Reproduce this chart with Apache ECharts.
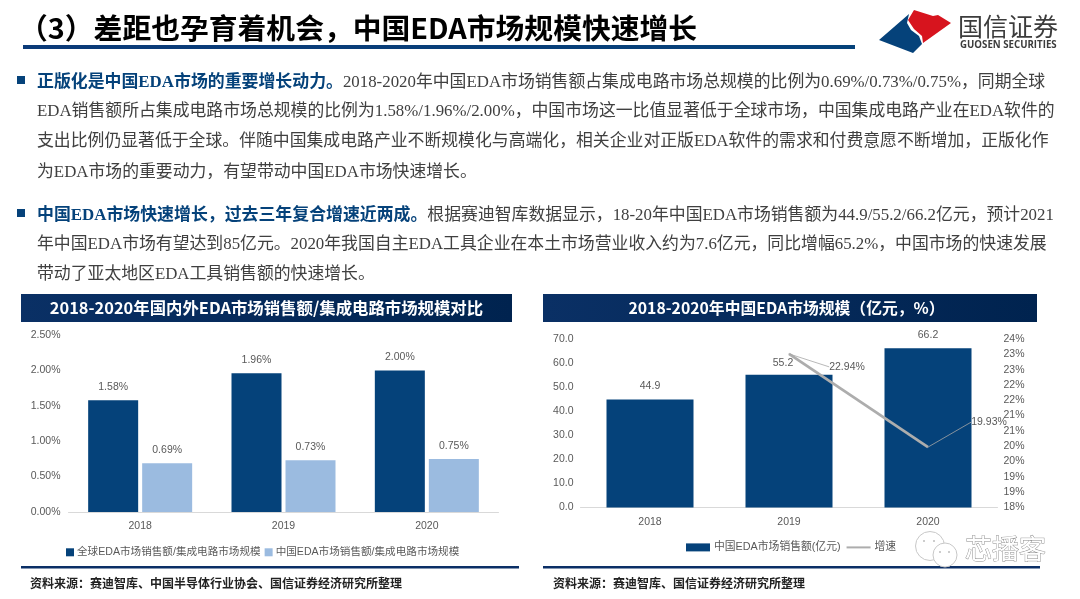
<!DOCTYPE html>
<html><head><meta charset="utf-8">
<style>html,body{margin:0;padding:0;background:#fff}#c{width:1080px;height:599px}</style>
<script src="https://cdn.jsdelivr.net/npm/echarts@6/dist/echarts.min.js"></script>
</head><body><div id="c"></div>
<script>
const years = ['2018','2019','2020'];
const globalShareName = '全球EDA市场销售额/集成电路市场规模';
const chinaShareName = '中国EDA市场销售额/集成电路市场规模';
const globalShare = [1.58,1.96,2.00];
const chinaShare = [0.69,0.73,0.75];
const salesName = '中国EDA市场销售额(亿元)';
const growthName = '增速';
const sales = [44.9,55.2,66.2];
const growth = [null,22.94,19.93];

const pageTitle = '（3）差距也孕育着机会，中国EDA市场规模快速增长';
const leftTitle = '2018-2020年国内外EDA市场销售额/集成电路市场规模对比';
const rightTitle = '2018-2020年中国EDA市场规模（亿元，%）';
const leftSource = '资料来源：赛迪智库、中国半导体行业协会、国信证券经济研究所整理';
const rightSource = '资料来源：赛迪智库、国信证券经济研究所整理';
const para = [
  {y:82.5, lead:'正版化是中国EDA市场的重要增长动力。', text:'2018-2020年中国EDA市场销售额占集成电路市场总规模的比例为0.69%/0.73%/0.75%，同期全球'},
  {y:112, text:'EDA销售额所占集成电路市场总规模的比例为1.58%/1.96%/2.00%，中国市场这一比值显著低于全球市场，中国集成电路产业在EDA软件的'},
  {y:142, text:'支出比例仍显著低于全球。伴随中国集成电路产业不断规模化与高端化，相关企业对正版EDA软件的需求和付费意愿不断增加，正版化作'},
  {y:172.5, text:'为EDA市场的重要动力，有望带动中国EDA市场快速增长。'},
  {y:215.5, lead:'中国EDA市场快速增长，过去三年复合增速近两成。', text:'根据赛迪智库数据显示，18-20年中国EDA市场销售额为44.9/55.2/66.2亿元，预计2021'},
  {y:245, text:'年中国EDA市场有望达到85亿元。2020年我国自主EDA工具企业在本土市场营业收入约为7.6亿元，同比增幅65.2%，中国市场的快速发展'},
  {y:274.5, text:'带动了亚太地区EDA工具销售额的快速增长。'}
];

const NAVY='#05427A', LIGHT='#9BBBE0', GREY='#ADADAD', TXT='#595959';
const SANS='"Liberation Sans","Noto Sans CJK SC",sans-serif';
const CJK='"Noto Sans CJK SC",sans-serif';
const BODY='"Liberation Serif","Noto Sans CJK SC",serif';
const chart = echarts.init(document.getElementById('c'),null,{renderer:'canvas'});

function txt(x,y,text,font,size,color,weight,align){
  return {type:'text',silent:true,x:x,y:y,style:{text:text,fontFamily:font,fontSize:size,fill:color,fontWeight:weight||'normal',align:align||'left',verticalAlign:'middle'}};
}
function rect(x,y,w,h,fill){return {type:'rect',silent:true,shape:{x:x,y:y,width:w,height:h},style:{fill:fill}};}

const g=[];
g.push(txt(19,28,pageTitle,CJK,28.8,'#000','bold'));
g.push(rect(23,45,832,4,new echarts.graphic.LinearGradient(0,0,1,0,[{offset:0,color:'#0B3A78'},{offset:1,color:'#05427A'}])));
// logo
g.push({type:'polygon',silent:true,shape:{points:[[909,14],[879,40],[913,53],[922,44],[919,36],[911,30],[907,23]]},style:{fill:'#05427A'}});
g.push({type:'polygon',silent:true,shape:{points:[[914,10],[933,16],[938,15],[951,23],[923,43],[922,36],[914,29],[908,20]]},style:{fill:'#D7141E'}});
g.push(txt(958,26,'国信证券',CJK,25,'#3C3C3C','normal'));
g.push(txt(960,45.5,'GUOSEN SECURITIES',"\"Open Sans\",sans-serif",9.7,'#3C3C3C','bold'));
// body
g.push(rect(17,76,8,8,NAVY)); g.push(rect(17,209,8,8,NAVY));
para.forEach(p=>{
  const rich={a:{fontFamily:BODY,fontSize:16.9,fontWeight:'bold',fill:'#05427A'},b:{fontFamily:BODY,fontSize:16.85,fill:'#404040'}};
  const s=(p.lead?'{a|'+p.lead+'}':'')+'{b|'+p.text+'}';
  g.push({type:'text',silent:true,x:37,y:p.y,style:{text:s,rich:rich,verticalAlign:'middle',align:'left'}});
});
// chart headers
const hdr=new echarts.graphic.LinearGradient(0,0,1,0,[{offset:0,color:'#0A3065'},{offset:1,color:'#00234F'}]);
g.push(rect(21,294,491,28,hdr));
g.push(rect(543,294,494,28,hdr));
g.push(txt(266.5,308,leftTitle,CJK,16.4,'#fff','bold','center'));
g.push(txt(786.5,308,rightTitle,CJK,15.8,'#fff','bold','center'));
g.push(rect(21,566,498,2.5,'#0B2F66'));
g.push(rect(543,566,497,2.5,'#0B2F66'));
g.push(txt(30,583,leftSource,CJK,12,'#222','bold'));
g.push(txt(553,583,rightSource,CJK,12,'#222','bold'));
// watermark
g.push({type:'circle',silent:true,shape:{cx:930,cy:546,r:14.5},style:{fill:'#fff',stroke:'#C8C8C8',lineWidth:1}});
g.push({type:'circle',silent:true,shape:{cx:945,cy:555,r:12},style:{fill:'#fff',stroke:'#C8C8C8',lineWidth:1}});
[[924,541],[934,541],[940,552],[949,552]].forEach(c=>g.push({type:'circle',silent:true,shape:{cx:c[0],cy:c[1],r:1},style:{fill:'#BDBDBD'}}));
g.push({type:'text',silent:true,x:965,y:549,style:{text:'芯播客',fontFamily:CJK,fontSize:27,fill:'#fff',stroke:'#8C8C8C',lineWidth:0.9,verticalAlign:'middle'}});

const lbl={color:TXT,fontFamily:SANS,fontSize:10.5};
function xAx(i){return {type:'category',gridIndex:i,data:years,axisTick:{show:false},axisLine:{lineStyle:{color:'#D9D9D9',width:1}},axisLabel:Object.assign({margin:9},lbl)};}
function yBase(){return {type:'value',splitLine:{show:false},axisLine:{show:false},axisTick:{show:false}};}
const lineLabelShift=[null,{dx:58,dy:13},{dx:61,dy:-25}];

chart.setOption({
  animation:false,backgroundColor:'#fff',
  graphic:g,
  grid:[{left:68.5,width:430,top:335,height:177},{left:580.5,width:417,top:339,height:168.5}],
  xAxis:[xAx(0),xAx(1)],
  yAxis:[
    Object.assign(yBase(),{gridIndex:0,min:0,max:2.5,interval:0.5,axisLabel:Object.assign({margin:8,formatter:v=>v.toFixed(2)+'%'},lbl)}),
    Object.assign(yBase(),{gridIndex:1,min:0,max:70,interval:10,axisLabel:Object.assign({margin:7,formatter:v=>v.toFixed(1)},lbl)}),
    Object.assign(yBase(),{gridIndex:1,position:'right',min:18,max:24,interval:6/11,axisLabel:Object.assign({margin:6,formatter:v=>Math.round(v)+'%'},lbl)}),
    Object.assign(yBase(),{gridIndex:1,position:'right',show:false,min:17.98,max:23.42})
  ],
  legend:[
    {left:66,top:547,itemWidth:8,itemHeight:8,itemGap:4,icon:'rect',padding:0,data:[globalShareName,chinaShareName],textStyle:{color:TXT,fontFamily:SANS,fontSize:10.6,padding:[0,0,0,-2]}},
    {left:686,top:542,itemWidth:24,itemHeight:8,itemGap:5,padding:0,data:[{name:salesName,icon:'rect'},{name:growthName,itemStyle:{opacity:0}}],textStyle:{color:TXT,fontFamily:SANS,fontSize:10.8,padding:[0,0,0,-1]}}
  ],
  series:[
    {type:'bar',name:globalShareName,xAxisIndex:0,yAxisIndex:0,data:globalShare,barWidth:50,barGap:'8%',itemStyle:{color:NAVY},label:{show:true,position:'top',distance:8,formatter:p=>p.value.toFixed(2)+'%',color:TXT,fontFamily:SANS,fontSize:10.5}},
    {type:'bar',name:chinaShareName,xAxisIndex:0,yAxisIndex:0,data:chinaShare,barWidth:50,barGap:'8%',itemStyle:{color:LIGHT},label:{show:true,position:'top',distance:8,formatter:p=>p.value.toFixed(2)+'%',color:TXT,fontFamily:SANS,fontSize:10.5}},
    {type:'bar',name:salesName,xAxisIndex:1,yAxisIndex:1,data:[sales[0],{value:sales[1],label:{offset:[-6,2]}},sales[2]],barWidth:87,itemStyle:{color:NAVY},label:{show:true,position:'top',distance:8,formatter:p=>p.value.toFixed(1),color:TXT,fontFamily:SANS,fontSize:10.5}},
    {type:'line',name:growthName,xAxisIndex:1,yAxisIndex:3,data:growth,
      showSymbol:true,symbol:'circle',symbolSize:1,lineStyle:{color:GREY,width:2.8},itemStyle:{color:GREY},z:5,
      label:{show:true,position:'inside',formatter:p=>p.value.toFixed(2)+'%',color:TXT,fontFamily:SANS,fontSize:10.5},
      labelLayout:p=>lineLabelShift[p.dataIndex]||{},
      labelLine:{show:true,lineStyle:{color:'#A6A6A6',width:0.8}}
    }
  ]
});
</script></body></html>
